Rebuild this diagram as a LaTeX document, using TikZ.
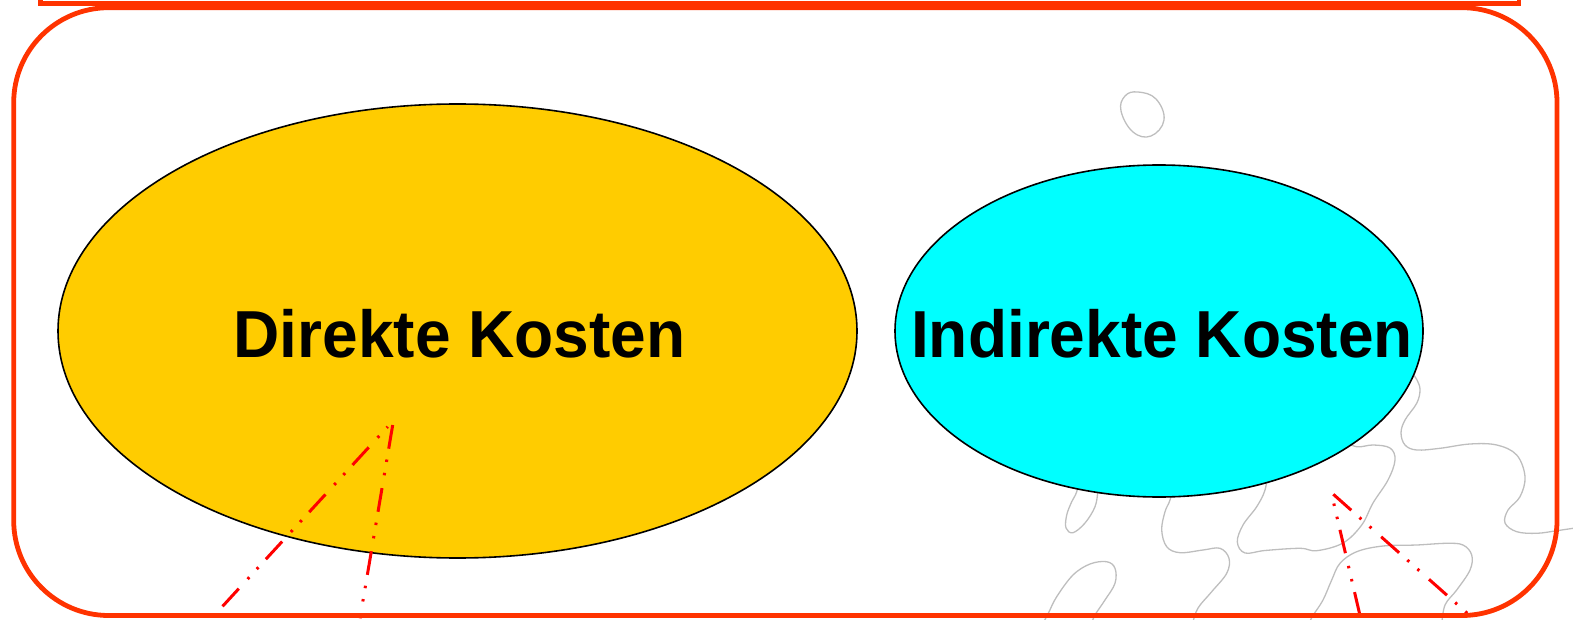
\documentclass[tikz,border=0pt]{standalone}
\usepackage{fontspec}
\setmainfont{Liberation Sans}
\usetikzlibrary{shapes.geometric}
\definecolor{frameRed}{RGB}{255,51,0}
\definecolor{lineRed}{RGB}{255,0,0}
\definecolor{orangeFill}{RGB}{255,204,0}
\definecolor{cyanFill}{RGB}{0,255,255}
\definecolor{squiggleGray}{RGB}{190,190,190}
\begin{document}
\begin{tikzpicture}[x=1pt,y=-1pt,
  costbox/.style={ellipse, draw=black, line width=1.6pt, inner sep=0pt},
  costlabel/.style={font=\bfseries\fontsize{66.5}{70}\selectfont, inner sep=0pt, anchor=base},
  ddline/.style={draw=lineRed, line width=3pt,
    dash pattern=on 24pt off 11pt on 2.5pt off 11pt on 2.5pt off 13pt},
  wiggle/.style={draw=squiggleGray, line width=1.3pt},
  framebox/.style={draw=frameRed, line width=4.8pt}
]
\useasboundingbox (0,0) rectangle (1573,620);

% gray squiggles (behind the ellipses)
\draw[wiggle] plot[smooth cycle, tension=0.7] coordinates {(1138,92) (1156,99) (1164,120) (1151,136) (1133,132) (1121,111) (1125,96)};
\draw[wiggle] plot[smooth, tension=0.6] coordinates {(1410,370) (1417,380) (1420,390) (1416.7,403.3) (1405,420) (1401,433) (1405,445) (1416.7,450) (1440,448.3) (1470,444) (1496.7,445) (1516.7,455) (1525,476.7) (1520,496.7) (1508,510) (1505,523) (1516.7,531.7) (1536.7,533.3) (1556.7,530.7) (1575,528)};
\draw[wiggle] plot[smooth, tension=0.6] coordinates {(1268,470) (1265,490) (1256.7,506.7) (1243,525) (1237.3,542) (1245,553) (1265,550.5) (1300,548.3) (1316.7,550.7) (1343,543) (1361.7,525) (1373,503) (1388,480) (1395,460) (1390,448) (1373,445) (1356.7,446.7) (1340,440)};
\draw[wiggle] plot[smooth, tension=0.6] coordinates {(1175,480) (1170,500) (1165,511.7) (1161.7,530) (1166.7,546.7) (1180,552.7) (1203,550) (1220,548.3) (1229,558.3) (1226.7,573.3) (1211.7,591.7) (1198,608) (1193,622)};
\draw[wiggle] plot[smooth, tension=0.6] coordinates {(1100,470) (1098,490) (1095,506.7) (1085,523) (1073,532.7) (1066,528) (1066.7,515) (1071.7,501.7) (1076.7,491.7) (1082,470)};
\draw[wiggle] plot[smooth, tension=0.6] coordinates {(1042,625) (1048.3,613.3) (1056.7,596.7) (1073,575) (1090,564) (1106.7,561.7) (1115,568.3) (1115,583.3) (1105,600) (1095,615) (1091,625)};
\draw[wiggle] plot[smooth, tension=0.6] coordinates {(1308,625) (1313.3,615) (1323,600) (1331.7,580) (1340,563.3) (1356.7,551.7) (1383,546) (1416.7,545) (1446.7,543.3) (1463,545) (1471.7,555) (1470,570) (1456.7,590) (1445,605) (1441.7,625)};

% ellipses
\node[costbox, fill=orangeFill, minimum width=799pt, minimum height=454pt] (direkt) at (457.5,331) {};
\node[costbox, fill=cyanFill, minimum width=528pt, minimum height=332pt] (indirekt) at (1159,331) {};
\node[costlabel] (direktText) at (459.7,357.7) {\scalebox{0.963}[1]{Direkte Kosten}};
\node[costlabel] (indirektText) at (1162,357.7) {\scalebox{0.963}[1]{Indirekte Kosten}};

% red dash-dot lines
\coordinate (lOneTop) at (387.7,426.7);
\coordinate (lOneBot) at (215.5,614);
\coordinate (lTwoTop) at (392.7,425);
\coordinate (lTwoBot) at (360,618.3);
\coordinate (rOneTop) at (1333.3,501.5);
\coordinate (rOneBot) at (1360,615.5);
\coordinate (rTwoTop) at (1333.3,494.3);
\coordinate (rTwoBot) at (1467.5,613.5);
\draw[ddline, dash phase=36pt] (lOneTop) -- (lOneBot);
\draw[ddline] (lTwoTop) -- (lTwoBot);
\draw[ddline] (rOneBot) -- (rOneTop);
\draw[ddline] (rTwoTop) -- (rTwoBot);

% frames
\draw[framebox, rounded corners=95pt] (13.7,7.7) rectangle (1557,615.5);
\draw[framebox] (40.8,-60) rectangle (1519,3.5);
\end{tikzpicture}
\end{document}
